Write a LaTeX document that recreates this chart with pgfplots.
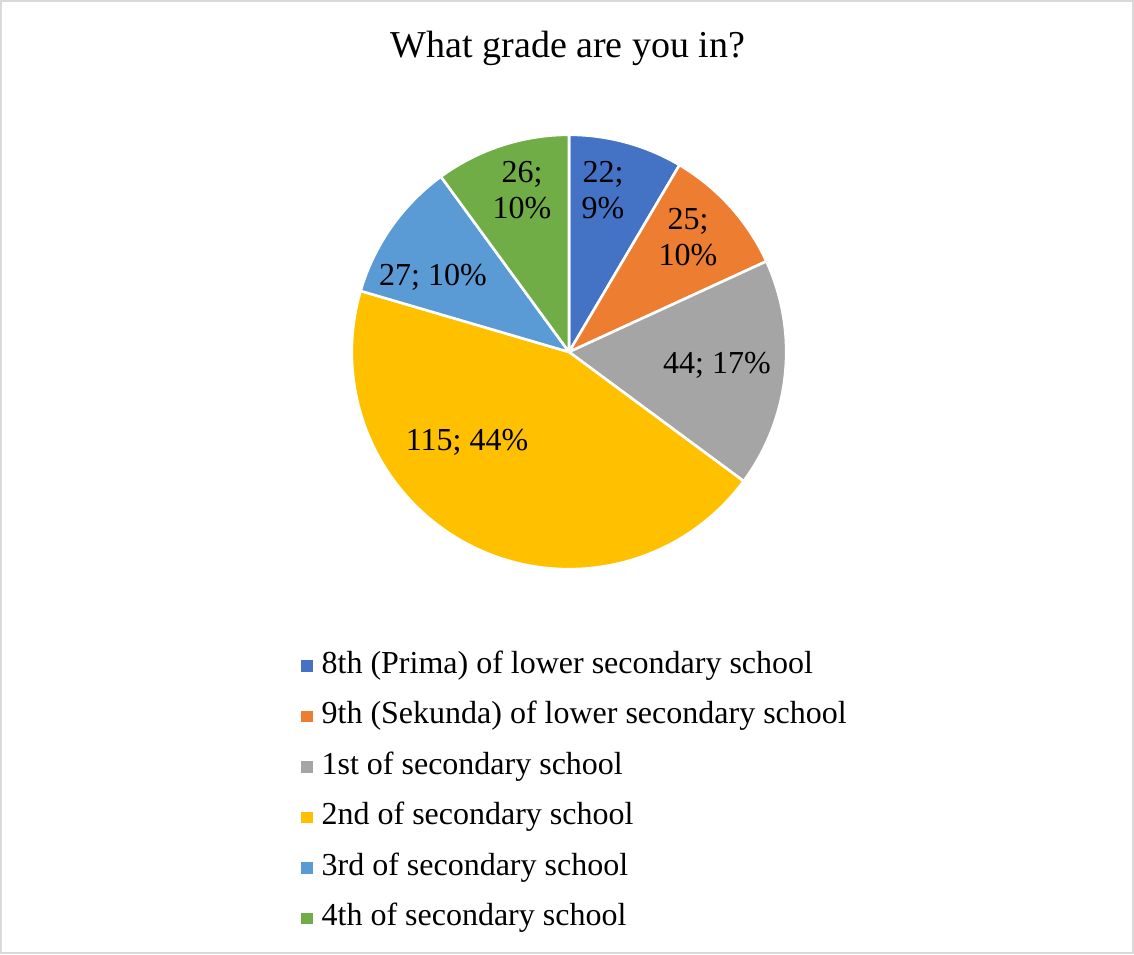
\documentclass[border=0pt]{standalone}
\usepackage{pgfplots}
\pgfplotsset{compat=1.18}
\usepackage{pgfplotstable}
\usepackage{fontspec}
\setmainfont{Liberation Serif}

\definecolor{c1}{HTML}{4472C4}
\definecolor{c2}{HTML}{ED7D31}
\definecolor{c3}{HTML}{A5A5A5}
\definecolor{c4}{HTML}{FFC000}
\definecolor{c5}{HTML}{5B9BD5}
\definecolor{c6}{HTML}{70AD47}
\definecolor{frame}{HTML}{D9D9D9}

\pgfplotstableread{
value color
22  c1
25  c2
44  c3
115 c4
27  c5
26  c6
}\piedata

\begin{document}
\begin{tikzpicture}
\begin{axis}[
  scale only axis, width=567pt, height=477pt,
  xmin=0, xmax=1134, ymin=0, ymax=954,
  hide axis, clip=false,
  legend cell align=left,
  legend image code/.code={\fill[#1, draw=none] (0pt,-2.9pt) rectangle (5.8pt,2.9pt);},
  legend style={draw=none, fill=none, inner sep=0pt, outer sep=0pt,
    font=\fontsize{16}{18}\selectfont,
    row sep=9.25pt, column sep=4.5pt,
    nodes={inner sep=0pt, text height=11.5pt, text depth=4.5pt},
    at={(axis cs:301,304)}, anchor=north west},
]
% frame
\draw[frame, line width=1pt] (axis cs:1,1) rectangle (axis cs:1133,953);
% title
\node[anchor=base, font=\fontsize{19}{22}\selectfont] at (axis cs:568,896) {What grade are you in?};

% total
\pgfplotstablegetrowsof{\piedata}
\pgfmathtruncatemacro\N{\pgfplotsretval-1}
\def\tot{0}
\pgfplotsforeachungrouped \i in {0,...,\N}{%
  \pgfplotstablegetelem{\i}{value}\of\piedata
  \pgfmathsetmacro\tot{\tot+\pgfplotsretval}%
}
% slices
\def\cum{0}
\pgfplotsforeachungrouped \i in {0,...,\N}{%
  \pgfplotstablegetelem{\i}{value}\of\piedata \let\v\pgfplotsretval
  \pgfplotstablegetelem{\i}{color}\of\piedata \let\c\pgfplotsretval
  \pgfmathsetmacro\sa{90-\cum/\tot*360}%
  \pgfmathsetmacro\cum{\cum+\v}%
  \pgfmathsetmacro\ea{90-\cum/\tot*360}%
  \edef\temp{\noexpand\fill[\c, draw=white, line width=1.3pt, line join=round]
    (axis cs:569,602) -- ++(\sa:108.6pt) arc[start angle=\sa, end angle=\ea, radius=108.6pt] -- cycle;}%
  \temp
}
% data labels
\begin{scope}[every node/.style={font=\fontsize{16}{18}\selectfont, align=center, inner sep=0pt}]
\node at (axis cs:603,764) {22;\\9\%};
\node at (axis cs:688,717) {25;\\10\%};
\node at (axis cs:717,589) {44; 17\%};
\node at (axis cs:467,512) {115; 44\%};
\node at (axis cs:433,677) {27; 10\%};
\node at (axis cs:522,764) {26;\\10\%};
\end{scope}

\addlegendimage{fill=c1}
\addlegendentry{8th (Prima) of lower secondary school}
\addlegendimage{fill=c2}
\addlegendentry{9th (Sekunda) of lower secondary school}
\addlegendimage{fill=c3}
\addlegendentry{1st of secondary school}
\addlegendimage{fill=c4}
\addlegendentry{2nd of secondary school}
\addlegendimage{fill=c5}
\addlegendentry{3rd of secondary school}
\addlegendimage{fill=c6}
\addlegendentry{4th of secondary school}
\end{axis}
\end{tikzpicture}
\end{document}
